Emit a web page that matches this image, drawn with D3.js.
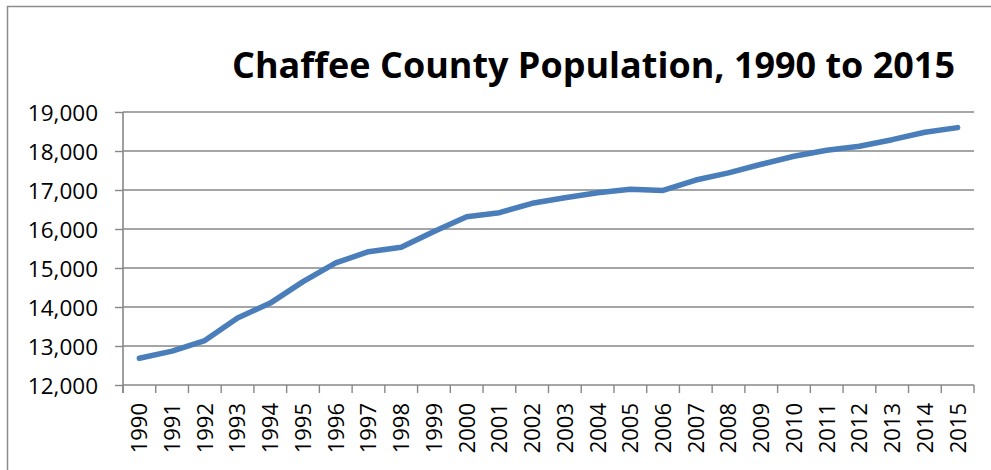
<!DOCTYPE html>
<html>
<head>
<meta charset="utf-8">
<script src="https://cdn.jsdelivr.net/npm/d3@7"></script>
<style>
    body { margin: 0; background: #fff; }
    text { font-family: "Open Sans", "Noto Sans", sans-serif; fill: #000; }
</style>
</head>
<body>
<div id="chart"></div>
<script>
// population estimates
const years = ["1990", "1991", "1992", "1993", "1994", "1995", "1996", "1997", "1998", "1999",
    "2000", "2001", "2002", "2003", "2004", "2005", "2006", "2007", "2008", "2009",
    "2010", "2011", "2012", "2013", "2014", "2015"];
const population = [12685, 12870, 13140, 13720, 14100, 14650, 15130, 15418, 15533, 15936,
    16315, 16418, 16659, 16800, 16928, 17020, 16990, 17256, 17440, 17660,
    17865, 18018, 18120, 18290, 18480, 18600];
const yTicks = [12000, 13000, 14000, 15000, 16000, 17000, 18000, 19000];
const title = "Chaffee County Population, 1990 to 2015";

var w = 991, h = 470;
var margin = { top: 112, right: 17, bottom: 85, left: 123 },
    width = w - margin.left - margin.right,
    height = h - margin.top - margin.bottom;

var root = d3.select("#chart")
    .append("svg")
    .attr("width", w)
    .attr("height", h);

// chart area border (runs off the right and bottom of the picture)
root.append("rect")
    .attr("x", 7.5).attr("y", 6.5)
    .attr("width", w + 20).attr("height", h + 20)
    .attr("fill", "none")
    .attr("stroke", "#8c8c8c")
    .attr("stroke-width", 1.5);

// title, fitted to the width it takes in the original
root.append("text")
    .attr("x", 232)
    .attr("y", 78)
    .attr("textLength", 723)
    .attr("lengthAdjust", "spacingAndGlyphs")
    .style("font-size", "36px")
    .style("font-weight", "bold")
    .text(title);

var svg = root.append("g")
    .attr("transform", `translate(${margin.left}, ${margin.top})`);

var x = d3.scaleBand()
    .domain(years)
    .range([0, width]);

var y = d3.scaleLinear()
    .domain([12000, 19000])
    .range([height, 0]);

// gridlines
svg.append("g")
    .selectAll("line")
    .data(yTicks.filter(d => d > 12000))
    .join("line")
    .attr("x1", 0).attr("x2", width)
    .attr("y1", d => y(d)).attr("y2", d => y(d))
    .attr("stroke", "#878787")
    .attr("stroke-width", 1.4);

// y axis
var yAxis = d3.axisLeft(y)
    .tickValues(yTicks)
    .tickSize(8)
    .tickPadding(17)
    .tickFormat(d3.format(","));

svg.append("g")
    .call(yAxis)
    .call(g => g.select(".domain").remove())
    .call(g => g.selectAll(".tick line").attr("stroke", "#878787").attr("stroke-width", 1.4))
    .call(g => g.selectAll(".tick text").style("font-size", "22.5px").attr("dy", "0.36em"));

svg.append("line")
    .attr("x1", 0).attr("x2", 0)
    .attr("y1", 0).attr("y2", height + 8)
    .attr("stroke", "#878787")
    .attr("stroke-width", 1.6);

// x axis: ticks between categories, labels centred on each band
var xg = svg.append("g")
    .attr("transform", `translate(0, ${height})`);

xg.append("line")
    .attr("x1", 0).attr("x2", width)
    .attr("stroke", "#878787")
    .attr("stroke-width", 1.6);

xg.selectAll(".xtick")
    .data(years.concat(["end"]))
    .join("line")
    .attr("class", "xtick")
    .attr("x1", (d, i) => i * x.step())
    .attr("x2", (d, i) => i * x.step())
    .attr("y1", 0).attr("y2", 8)
    .attr("stroke", "#878787")
    .attr("stroke-width", 1.4);

xg.selectAll(".xlabel")
    .data(years)
    .join("text")
    .attr("class", "xlabel")
    .attr("text-anchor", "end")
    .attr("transform", d => `translate(${x(d) + x.bandwidth() / 2}, 18) rotate(-90)`)
    .attr("dy", "0.36em")
    .style("font-size", "22px")
    .text(d => d);

// the population line
var line = d3.line()
    .x((d, i) => x(years[i]) + x.bandwidth() / 2)
    .y(d => y(d));

svg.append("path")
    .datum(population)
    .attr("fill", "none")
    .attr("stroke", "#4a7ebb")
    .attr("stroke-width", 5.5)
    .attr("stroke-linecap", "round")
    .attr("stroke-linejoin", "round")
    .attr("d", line);
</script>
</body>
</html>
